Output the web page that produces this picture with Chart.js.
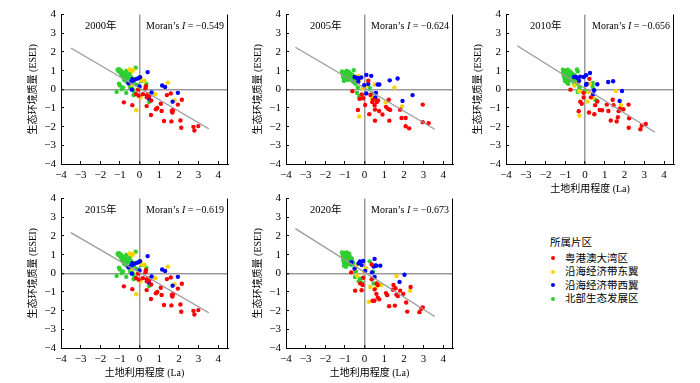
<!DOCTYPE html>
<html>
<head>
<meta charset="utf-8">
<script src="https://cdn.jsdelivr.net/npm/chart.js@4.4.0/dist/chart.umd.min.js"></script>
<style>
body { margin: 0; width: 700px; height: 383px; position: relative; background: #fff; overflow: hidden; }
canvas { position: absolute; }
.lg { position: absolute; font: 10.5px "Liberation Serif", "Noto Sans CJK SC", serif; color: #000; line-height: 13px; white-space: nowrap; }
.dot { position: absolute; width: 4px; height: 4px; border-radius: 50%; }
</style>
</head>
<body>
<script>
// panel captions
var years = ['2000年', '2005年', '2010年', '2015年', '2020年'];
var moranI = ['−0.549', '−0.624', '−0.656', '−0.619', '−0.673'];
var regions = ['粤港澳大湾区', '沿海经济带东翼', '沿海经济带西翼', '北部生态发展区'];
var regionColors = ['#ff0000', '#ffd200', '#0000ff', '#2fcf2f'];

// fitted line end points [x1, y1, x2, y2] per panel
var fitLines = [
    [-3.5, 2.21, 3.52, -2.11],
    [-3.52, 2.25, 3.57, -2.14],
    [-3.43, 2.33, 3.54, -2.30],
    [-3.5, 2.18, 3.52, -2.11],
    [-3.52, 2.39, 3.57, -2.31]
];

// [La, ESEI] points
var gba2000 = [[-0.8,-0.7],[-0.37,-0.85],[-0.08,-0.02],[-0.17,-0.26],[-0.05,-0.34],[0.17,-0.26],[0.32,0.17],[0.37,-0.43],[0.49,-0.36],[0.59,-0.6],[0.36,-0.9],[0.58,-1.38],[0.83,-1.07],[0.9,-1.0],[1.08,-0.77],[1.12,-1.16],[1.24,-1.7],[1.39,-0.31],[1.59,-0.22],[1.62,-1.72],[1.64,-1.16],[1.67,-1.24],[1.71,-1.11],[1.95,-0.82],[2.15,-0.56],[2.08,-1.67],[2.12,-2.06],[2.74,-2.01],[2.79,-2.21],[2.99,-1.97],[0.3,0.05],[0.42,-0.28]];
var east2000 = [[-0.51,1.06],[-0.37,0.97],[-0.32,1.05],[0.03,0.65],[0.08,0.49],[0.25,0.46],[-0.39,0.24],[0.05,-0.44],[-0.17,-1.12],[0.8,-0.26],[1.44,0.36],[1.78,-0.6]];
var west2000 = [[0.41,0.92],[0.02,0.65],[-0.14,0.56],[-0.05,0.6],[-0.37,0.54],[-0.3,0.49],[-0.42,0.41],[-0.56,0.32],[0.0,0.15],[-0.39,-0.02],[0.61,-0.17],[0.37,-0.34],[0.47,-0.39],[1.15,0.2],[1.3,0.12],[1.95,-0.19],[1.68,-0.66],[0.46,-0.48]];
var north2000 = [[-1.12,1.05],[-1.08,0.98],[-1.05,1.08],[-1.0,0.92],[-0.98,1.02],[-0.95,0.85],[-0.92,0.95],[-0.9,0.78],[-0.88,0.7],[-0.85,0.88],[-0.82,0.62],[-0.8,0.75],[-0.78,0.5],[-0.75,0.82],[-0.72,0.68],[-0.7,0.55],[-0.68,0.98],[-0.65,0.4],[-0.6,0.75],[-0.58,0.6],[-0.55,0.3],[-0.5,0.85],[-0.48,0.1],[-0.45,0.45],[-0.42,0.65],[-0.4,0.2],[-0.35,0.0],[-0.3,0.38],[-0.28,-0.2],[-0.25,0.55],[-0.2,1.15],[-0.15,0.25],[-1.17,-0.14],[-1.05,0.3],[-1.0,0.2],[-0.9,0.0],[-0.85,0.1],[-0.68,-0.19],[-0.3,-0.32],[0.35,0.28],[0.48,-0.68],[0.1,0.45]];

var gba2005 = [[-0.62,-0.1],[-0.14,-0.27],[-0.26,-0.51],[-0.07,-0.48],[-0.34,-1.11],[0.03,-0.84],[0.19,0.46],[0.24,-1.33],[0.39,-0.68],[0.43,-0.56],[0.51,-0.85],[0.53,-1.08],[0.53,-1.68],[0.62,-0.68],[0.68,-0.6],[0.74,-1.16],[0.91,-1.35],[1.09,-0.94],[1.23,-0.56],[1.2,-1.05],[1.3,-1.11],[1.26,-1.68],[1.81,-1.09],[1.88,-1.54],[2.09,-1.54],[2.09,-1.98],[2.27,-2.09],[2.96,-0.82],[2.96,-1.76],[3.26,-1.81],[0.3,-0.3]];
var east2005 = [[-0.32,0.72],[-0.29,0.5],[0.51,0.26],[1.52,0.09],[1.08,-0.7],[1.91,-0.92],[-0.27,-1.46],[0.35,-0.45],[-0.1,0.05],[0.1,0.2]];
var west2005 = [[-0.51,0.66],[-0.39,0.61],[-0.29,0.6],[-0.17,0.63],[-0.32,0.41],[0.09,0.77],[0.34,0.72],[0.19,0.29],[0.67,0.26],[0.75,0.26],[-0.02,0.22],[0.09,-0.22],[0.58,-0.19],[0.55,-0.44],[1.28,0.48],[1.68,0.58],[2.44,-0.31],[1.93,-0.62]];
var north2005 = [[-1.15,0.95],[-1.12,0.85],[-1.1,0.72],[-1.08,0.6],[-1.05,0.45],[-1.02,0.9],[-1.0,0.78],[-0.98,0.65],[-0.95,0.55],[-0.92,0.98],[-0.9,0.85],[-0.88,0.7],[-0.85,0.5],[-0.82,0.8],[-0.8,0.62],[-0.78,0.9],[-0.75,0.72],[-0.72,0.55],[-0.7,0.82],[-0.68,0.65],[-0.65,0.48],[-0.62,0.75],[-0.6,0.6],[-0.58,0.4],[-0.55,1.02],[-0.52,0.68],[-0.5,0.5],[-0.48,0.3],[-0.45,0.58],[-0.4,0.45],[-1.05,0.8],[-0.95,0.7],[-0.85,0.95],[-0.75,0.6],[-0.39,-0.19],[-0.27,-0.36],[-0.2,-0.48],[0.26,0.07],[0.39,-0.22],[0.41,-0.51],[-0.35,0.1]];

var gba2010 = [[-0.74,-0.02],[-0.24,-0.66],[-0.17,-0.77],[-0.07,-0.44],[-0.08,-0.19],[-0.32,-1.17],[0.22,0.56],[0.2,-1.24],[0.29,-0.43],[0.47,-1.34],[0.51,-0.85],[0.62,-0.65],[0.74,-1.11],[0.86,-1.12],[1.1,-0.82],[1.18,-1.16],[1.3,-1.67],[1.4,-0.56],[1.44,-0.85],[1.6,-1.72],[1.66,-1.5],[1.7,-1.17],[1.76,-1.04],[1.94,-1.07],[2.2,-0.82],[2.23,-1.55],[2.21,-2.06],[2.8,-2.14],[2.87,-1.94],[3.07,-1.86]];
var east2010 = [[-0.54,0.2],[-0.34,0.37],[-0.29,-1.41],[0.12,-0.65],[0.41,-0.44],[1.57,-0.09],[1.81,-0.85],[0.17,-0.14],[-0.3,-0.1],[0.25,0.3]];
var west2010 = [[-0.56,0.66],[-0.47,0.66],[-0.37,0.6],[-0.25,0.68],[-0.07,0.66],[0.05,0.75],[0.25,0.87],[0.08,0.29],[0.05,0.24],[0.62,0.27],[1.17,0.39],[1.42,0.43],[1.87,-0.09],[1.75,-0.63],[0.41,-0.26],[0.46,-0.05],[-0.3,0.46]];
var north2010 = [[-1.12,1.05],[-1.1,0.9],[-1.08,0.75],[-1.05,0.6],[-1.02,0.45],[-1.0,1.0],[-0.98,0.85],[-0.95,0.7],[-0.92,0.55],[-0.9,0.35],[-0.88,1.05],[-0.85,0.9],[-0.82,0.75],[-0.8,0.62],[-0.78,0.48],[-0.75,0.95],[-0.72,0.8],[-0.7,0.65],[-0.68,0.5],[-0.65,0.85],[-0.62,0.7],[-0.6,0.55],[-0.58,0.4],[-0.55,0.3],[-0.52,0.75],[-0.5,0.6],[-0.45,0.45],[-0.41,1.06],[-0.37,0.97],[-0.4,0.3],[-0.37,-0.14],[-0.3,-0.03],[-0.28,0.1],[0.0,-0.08],[0.05,-0.1],[0.39,0.34],[0.39,0.12],[0.52,-0.56],[0.59,-0.61],[-0.95,0.4],[-0.85,0.3]];

// the 2015 panel shows the same scatter as 2000
var gba2015 = gba2000;
var east2015 = east2000;
var west2015 = west2000;
var north2015 = north2000;

var gba2020 = [[-0.68,0.05],[-0.48,-0.93],[-0.15,-0.91],[-0.1,-0.63],[-0.22,-0.54],[-0.07,-0.24],[0.36,0.47],[0.36,-0.32],[0.41,-1.47],[0.5,-1.47],[0.51,-0.86],[0.6,-1.1],[0.67,-1.3],[0.74,-1.39],[0.62,-0.54],[0.67,-0.63],[1.09,-1.06],[1.15,-1.17],[1.25,-1.76],[1.47,-0.63],[1.57,-0.8],[1.54,-1.73],[1.62,-1.14],[1.69,-1.22],[1.81,-0.93],[1.97,-1.1],[2.12,-1.56],[2.17,-2.05],[2.34,-0.73],[2.79,-2.08],[2.89,-1.9],[2.96,-1.83],[1.44,-0.88]];
var east2020 = [[-0.36,0.47],[-0.46,0.25],[-0.39,-0.12],[0.09,0.27],[0.29,-0.73],[0.6,-0.75],[0.84,-0.63],[0.21,-1.53],[1.62,-0.15],[2.32,-0.93],[0.0,0.1]];
var west2020 = [[-0.67,0.59],[-0.51,0.25],[-0.31,0.53],[-0.24,0.63],[-0.15,0.44],[-0.07,0.66],[0.03,0.12],[0.38,0.05],[0.51,0.77],[0.55,0.42],[0.6,0.41],[0.8,0.41],[0.46,0.36],[0.51,-0.2],[1.78,-0.46],[2.03,-0.08]];
var north2020 = [[-1.15,1.12],[-1.12,1.0],[-1.1,0.85],[-1.08,0.7],[-1.05,0.55],[-1.02,1.1],[-1.0,0.95],[-0.98,0.8],[-0.95,0.65],[-0.92,0.45],[-0.9,1.12],[-0.88,1.0],[-0.85,0.85],[-0.82,0.7],[-0.8,0.55],[-0.78,1.05],[-0.75,0.9],[-0.72,0.75],[-0.7,0.6],[-0.68,0.45],[-0.65,0.8],[-0.62,0.65],[-1.05,0.4],[-0.95,0.35],[-0.85,0.5],[-0.58,0.55],[-0.5,0.25],[-0.45,0.1],[-0.49,-0.2],[-0.3,-0.42],[-0.14,-0.51],[-0.24,-0.29],[0.26,0.64],[0.43,0.08],[0.46,-0.54]];

var panelPoints = [
    [gba2000, east2000, west2000, north2000],
    [gba2005, east2005, west2005, north2005],
    [gba2010, east2010, west2010, north2010],
    [gba2015, east2015, west2015, north2015],
    [gba2020, east2020, west2020, north2020]
];

// plot area of each panel in page pixels: left, top, right, bottom, has x title
var panelBoxes = [
    [61, 7, 228, 164, false],
    [286, 7, 453, 164, false],
    [506, 7, 674, 164, true],
    [61, 191, 228, 348, true],
    [286, 191, 453, 348, true]
];

var serif = '"Liberation Serif", "Noto Sans CJK SC", serif';

function minus(v) {
    return String(v).replace('-', '−');
}

var panelText = {
    id: 'panelText',
    afterDraw: function (chart, args, opts) {
        var ctx = chart.ctx, a = chart.chartArea, i = opts.idx;
        ctx.save();
        // right frame line
        ctx.strokeStyle = '#000';
        ctx.lineWidth = 1;
        ctx.beginPath();
        ctx.moveTo(a.right - 0.5, a.top);
        ctx.lineTo(a.right - 0.5, a.bottom);
        ctx.stroke();

        ctx.fillStyle = '#000';
        ctx.textBaseline = 'middle';
        var ty = a.top + 12;
        ctx.font = '10.5px ' + serif;
        ctx.textAlign = 'left';
        ctx.fillText(years[i], a.left + 24, ty);

        var p1 = 'Moran’s ', p2 = 'I', p3 = ' = ' + moranI[i];
        ctx.font = '10px ' + serif;
        var w1 = ctx.measureText(p1).width, w3 = ctx.measureText(p3).width;
        ctx.font = 'italic 10px ' + serif;
        var w2 = ctx.measureText(p2).width;
        var x = a.right - 4 - (w1 + w2 + w3);
        ctx.font = '10px ' + serif;
        ctx.fillText(p1, x, ty);
        ctx.font = 'italic 10px ' + serif;
        ctx.fillText(p2, x + w1, ty);
        ctx.font = '10px ' + serif;
        ctx.fillText(p3, x + w1 + w2, ty);
        ctx.restore();
    }
};

function zeroColor(c) {
    return c.tick && c.tick.value === 0 ? '#9a9a9a' : 'rgba(0,0,0,0)';
}
function zeroWidth(c) {
    return c.tick && c.tick.value === 0 ? 1.5 : 1;
}

function makePanel(i) {
    var b = panelBoxes[i];
    var axisW = 62, padR = 6, padT = 7, xh = b[4] ? 34 : 24;
    var cv = document.createElement('canvas');
    cv.width = b[2] - b[0] + axisW + padR;
    cv.height = b[3] - b[1] + padT + xh;
    cv.style.left = (b[0] - axisW) + 'px';
    cv.style.top = (b[1] - padT) + 'px';
    document.body.appendChild(cv);

    var f = fitLines[i];
    var datasets = [{
        type: 'line',
        data: [{x: f[0], y: f[1]}, {x: f[2], y: f[3]}],
        borderColor: '#9a9a9a',
        borderWidth: 1.3,
        pointRadius: 0,
        fill: false
    }];
    var drawOrder = [0, 2, 1, 3];
    drawOrder.forEach(function (r) {
        datasets.push({
            label: regions[r],
            data: panelPoints[i][r].map(function (p) { return {x: p[0], y: p[1]}; }),
            backgroundColor: regionColors[r],
            borderWidth: 0,
            pointRadius: 2.2
        });
    });

    new Chart(cv, {
        type: 'scatter',
        data: {datasets: datasets},
        options: {
            responsive: false,
            animation: false,
            events: [],
            layout: {padding: {top: padT, right: padR, left: 0, bottom: 0}},
            plugins: {
                legend: {display: false},
                tooltip: {enabled: false},
                panelText: {idx: i}
            },
            scales: {
                x: {
                    type: 'linear',
                    min: -4,
                    max: 4.5,
                    afterFit: function (s) { s.height = xh; },
                    ticks: {stepSize: 1, includeBounds: false, padding: 8, color: '#000', maxRotation: 0, autoSkip: false,
                        font: {family: serif, size: 11}, callback: minus},
                    grid: {color: zeroColor, lineWidth: zeroWidth, tickLength: -3, tickColor: '#000', tickWidth: 1},
                    border: {color: '#000', width: 1},
                    title: {display: b[4], text: '土地利用程度 (La)', color: '#000',
                        font: {family: serif, size: 10}, padding: {top: 0, bottom: 3}}
                },
                y: {
                    type: 'linear',
                    min: -4,
                    max: 4,
                    afterFit: function (s) { s.width = axisW; },
                    ticks: {stepSize: 1, padding: 8, color: '#000', font: {family: serif, size: 11}, callback: minus},
                    grid: {color: zeroColor, lineWidth: zeroWidth, tickLength: -3, tickColor: '#000', tickWidth: 1},
                    border: {color: '#000', width: 1},
                    title: {display: true, text: '生态环境质量 (ESEI)', color: '#000',
                        font: {family: serif, size: 10}, padding: {top: 28, bottom: 0}}
                }
            }
        },
        plugins: [panelText]
    });
}

for (var i = 0; i < years.length; i++) {
    makePanel(i);
}

// legend
var lgTitle = document.createElement('div');
lgTitle.className = 'lg';
lgTitle.style.left = '550px';
lgTitle.style.top = '235.5px';
lgTitle.textContent = '所属片区';
document.body.appendChild(lgTitle);
regions.forEach(function (name, k) {
    var cy = 258.3 + k * 13.4;
    var d = document.createElement('div');
    d.className = 'dot';
    d.style.left = '551px';
    d.style.top = (cy - 2) + 'px';
    d.style.background = regionColors[k];
    document.body.appendChild(d);
    var t = document.createElement('div');
    t.className = 'lg';
    t.style.left = '565px';
    t.style.top = (cy - 6.5) + 'px';
    t.textContent = name;
    document.body.appendChild(t);
});
</script>
</body>
</html>
